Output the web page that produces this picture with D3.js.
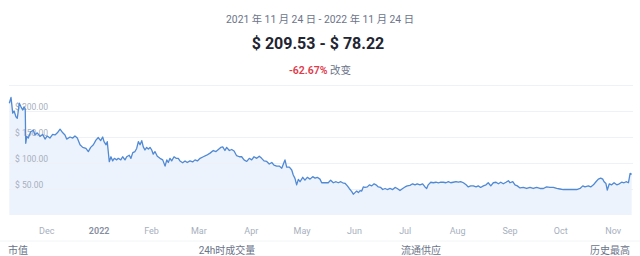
<!DOCTYPE html>
<html>
<head>
<meta charset="utf-8">
<script src="https://cdn.jsdelivr.net/npm/d3@7"></script>
<style>
  html, body { margin: 0; padding: 0; background: #fff; }
  body { width: 640px; height: 256px; overflow: hidden; }
  svg { display: block; font-family: Roboto, "Noto Sans CJK SC", sans-serif; }
</style>
</head>
<body>
<svg id="chart" width="640" height="256"></svg>
<script>
// Price history: day offset from the first sample and closing price (USD)
const startDate = new Date(2021, 10, 9);
const dayOffsets = [
  0.2, 1.2, 2.2, 3.0, 4.1, 4.9, 6.1, 7.1, 8.1, 8.9, 9.6, 9.9, 10.5, 11.4, 12.8, 14.4,
  15.4, 16.7, 18.3, 19.9, 21.3, 22.6, 24.2, 25.8, 27.2, 28.6, 30.2, 31.8, 33.1, 34.1,
  36.1, 37.7, 39.0, 40.4, 42.0, 43.6, 45.5, 46.9, 48.3, 49.9, 51.4, 52.8, 54.2, 55.4,
  56.2, 57.4, 58.1, 59.3, 60.3, 61.3, 62.3, 63.7, 64.6, 66.1, 67.2, 68.6, 69.6, 71.1,
  72.1, 73.2, 74.5, 75.5, 76.5, 77.5, 78.5, 79.4, 80.4, 81.4, 82.4, 83.4, 84.4, 85.3,
  86.3, 87.7, 89.3, 90.9, 92.3, 93.3, 94.2, 95.2, 96.2, 97.6, 98.8, 100.1, 101.1, 102.7,
  104.1, 105.4, 107.0, 108.6, 110.0, 111.4, 113.0, 114.9, 116.9, 118.9, 120.8, 122.4,
  123.8, 125.2, 126.4, 127.7, 128.7, 130.3, 131.7, 133.1, 134.6, 136.2, 137.6, 139.0,
  140.6, 142.1, 143.5, 144.9, 146.5, 148.0, 149.4, 150.8, 152.4, 153.9, 155.4, 156.7,
  158.3, 159.8, 161.3, 162.6, 163.2, 164.2, 165.8, 167.2, 168.1, 169.1, 170.1, 171.1,
  172.1, 173.7, 175.0, 176.4, 178.0, 179.6, 181.0, 182.3, 183.9, 184.9, 186.9, 188.8,
  190.2, 191.8, 193.4, 194.7, 196.2, 197.3, 198.7, 200.1, 201.2, 202.7, 203.6, 204.6,
  205.6, 206.6, 207.6, 208.6, 209.5, 210.5, 211.9, 213.1, 214.5, 215.9, 217.0, 218.4,
  219.8, 221.0, 222.4, 223.7, 225.3, 226.9, 228.3, 229.6, 231.2, 232.8, 234.2, 235.5,
  237.1, 238.7, 240.1, 241.4, 243.0, 244.6, 246.0, 247.0, 247.9, 249.4, 250.9, 252.5,
  253.9, 255.3, 256.8, 258.4, 259.8, 261.2, 262.7, 264.3, 265.7, 267.1, 268.7, 270.3,
  271.6, 273.0, 274.6, 276.2, 277.5, 278.9, 280.5, 282.1, 283.4, 284.9, 286.4, 288.0,
  289.4, 290.8, 292.3, 293.9, 295.3, 296.3, 297.9, 299.2, 300.6, 302.2, 304.1, 306.1,
  308.1, 310.0, 312.0, 314.0, 316.0, 317.9, 319.9, 321.9, 323.9, 325.8, 327.8, 329.8,
  331.7, 333.7, 335.7, 337.7, 339.3, 340.6, 342.6, 344.0, 345.6, 347.1, 348.5, 349.9,
  351.1, 351.9, 353.0, 353.8, 355.0, 356.4, 357.8, 359.4, 360.9, 362.3, 363.7, 364.9,
  366.3, 367.3, 368.2
];
const prices = [
  215, 226, 196, 200, 189, 186, 215, 208, 202, 208, 204, 138, 151, 148, 160, 163,
  154, 158, 151, 155, 146, 152, 148, 155, 154, 158, 165, 158, 154, 146,
  150, 148, 152, 148, 135, 130, 128, 122, 130, 135, 144, 149, 143, 150,
  141, 135, 141, 102.5, 112, 104, 109, 106, 109, 106, 112, 106, 112, 115,
  109, 120, 122, 128, 141, 135, 143, 131, 125, 130, 127, 130, 125, 117,
  122, 113, 109, 106, 94, 106, 101, 109, 104, 112, 109, 109, 104, 100.5,
  104, 101, 104, 102, 106, 104, 109, 112, 115, 119, 124, 122,
  126, 130, 131, 124, 130, 124, 126, 123, 114, 112, 112, 106,
  103, 109, 106, 112, 109, 113, 109, 104, 103, 98, 101, 96,
  94, 94, 90, 101, 106, 92, 92, 86.5, 77, 70.5, 58, 68.6,
  64, 72.5, 67, 72.5, 69, 73.7, 71, 72.5, 69, 62, 62, 62,
  67, 62, 64, 62, 64, 62, 61, 56, 51, 45, 40, 43,
  46, 43, 47, 46, 54, 53, 54, 58, 56, 60, 58, 54,
  53, 49, 51, 49, 51, 49, 53, 51, 47, 51, 54, 56,
  57, 60, 58, 60, 58, 60, 54, 51, 58, 63, 62, 63,
  62, 63, 63, 62, 64, 62, 63, 64, 63, 64, 62, 58,
  54, 56, 56, 54, 56, 53, 56, 58, 62, 56, 62, 63,
  60, 63, 60, 63, 66, 62, 64, 58, 56, 52, 53, 51,
  53, 51, 53, 51, 51, 54, 53, 53, 51, 50, 49, 49,
  49, 49, 49, 51, 56, 54, 56, 54, 58, 64, 69, 71,
  69, 64, 60.5, 48, 60, 58, 62, 58, 60, 63, 62, 64,
  62, 80, 78.22
];
const gridValues = [50, 100, 150, 200, 250];
const labelValues = [50, 100, 150, 200];
const dateRangeText = "2021 年 11 月 24 日 - 2022 年 11 月 24 日";
const priceRangeText = "$ 209.53 - $ 78.22";
const changeText = "-62.67%";
const changeLabel = "改变";
const statLabels = ["市值", "24h时成交量", "流通供应", "历史最高"];

const data = dayOffsets.map((d, i) => ({
  date: new Date(+startDate + d * 864e5),
  value: prices[i]
}));

const svg = d3.select("#chart");
const plot = { left: 9, right: 633, top: 85, bottom: 215 };

const x = d3.scaleTime()
  .domain([startDate, d3.timeDay.offset(startDate, 369)])
  .range([plot.left, plot.right]);
const y = d3.scaleLinear()
  .domain([0, 250])
  .range([plot.bottom, plot.top]);

// Header
svg.append("text")
  .attr("x", 320).attr("y", 23)
  .attr("text-anchor", "middle")
  .attr("font-size", 10.3)
  .attr("fill", "#6b7489")
  .text(dateRangeText);

svg.append("text")
  .attr("x", 318).attr("y", 49)
  .attr("text-anchor", "middle")
  .attr("font-size", 16)
  .attr("font-weight", 700)
  .attr("fill", "#222531")
  .text(priceRangeText);

const chg = svg.append("text")
  .attr("x", 320).attr("y", 74)
  .attr("text-anchor", "middle")
  .attr("font-size", 10.5);
chg.append("tspan").attr("fill", "#e03a4b").attr("font-weight", 600).text(changeText);
chg.append("tspan").attr("fill", "#6b7489").text(" " + changeLabel);

// Area fill under the price line
const area = d3.area()
  .x(d => x(d.date))
  .y0(y(0))
  .y1(d => y(d.value));
svg.append("path")
  .datum(data)
  .attr("d", area)
  .attr("fill", "#edf3fc");

// Horizontal gridlines
const gridAxis = d3.axisRight(y)
  .tickValues(gridValues)
  .tickSize(plot.right - plot.left)
  .tickFormat("");
const grid = svg.append("g")
  .attr("transform", `translate(${plot.left},0)`)
  .call(gridAxis);
grid.select(".domain").remove();
grid.selectAll(".tick line").attr("stroke", "#eef1f5").attr("stroke-width", 1);

// Price labels sitting on top of their gridlines
const yAxis = d3.axisRight(y)
  .tickValues(labelValues)
  .tickSize(0)
  .tickFormat(d => "$ " + d3.format(".2f")(d));
const yg = svg.append("g")
  .attr("transform", `translate(${plot.left + 6},0)`)
  .call(yAxis);
yg.select(".domain").remove();
yg.selectAll("text")
  .attr("x", 0)
  .attr("dy", -1.5)
  .attr("font-size", 8.5)
  .attr("font-family", "Roboto, sans-serif")
  .attr("fill", "#a7afbe");

// Price line
const line = d3.line()
  .x(d => x(d.date))
  .y(d => y(d.value));
svg.append("path")
  .datum(data)
  .attr("d", line)
  .attr("fill", "none")
  .attr("stroke", "#5089d4")
  .attr("stroke-width", 1.3)
  .attr("stroke-linejoin", "round");

// Month axis
const fmtMonth = d3.timeFormat("%b");
const fmtYear = d3.timeFormat("%Y");
const xAxis = d3.axisBottom(x)
  .ticks(d3.timeMonth.every(1))
  .tickSize(0)
  .tickFormat(d => d.getMonth() === 0 ? fmtYear(d) : fmtMonth(d));
const xg = svg.append("g")
  .attr("transform", `translate(0,${plot.bottom})`)
  .call(xAxis);
xg.select(".domain").remove();
xg.selectAll("text")
  .attr("y", 13)
  .attr("font-size", 9)
  .attr("font-family", "Roboto, sans-serif")
  .attr("fill", d => d.getMonth() === 0 ? "#858ea0" : "#a7afbe")
  .attr("font-weight", d => d.getMonth() === 0 ? 600 : 400);

// Divider above the stats row
svg.append("line")
  .attr("x1", 0).attr("x2", 640)
  .attr("y1", 241).attr("y2", 241)
  .attr("stroke", "#f3f4f6");

// Stats row
const statPos = [
  { x: 8, anchor: "start" },
  { x: 227, anchor: "middle" },
  { x: 421, anchor: "middle" },
  { x: 630, anchor: "end" }
];
svg.selectAll("text.stat")
  .data(statLabels)
  .join("text")
  .attr("class", "stat")
  .attr("x", (d, i) => statPos[i].x)
  .attr("y", 254)
  .attr("text-anchor", (d, i) => statPos[i].anchor)
  .attr("font-size", 10)
  .attr("fill", "#6b7489")
  .text(d => d);
</script>
</body>
</html>
